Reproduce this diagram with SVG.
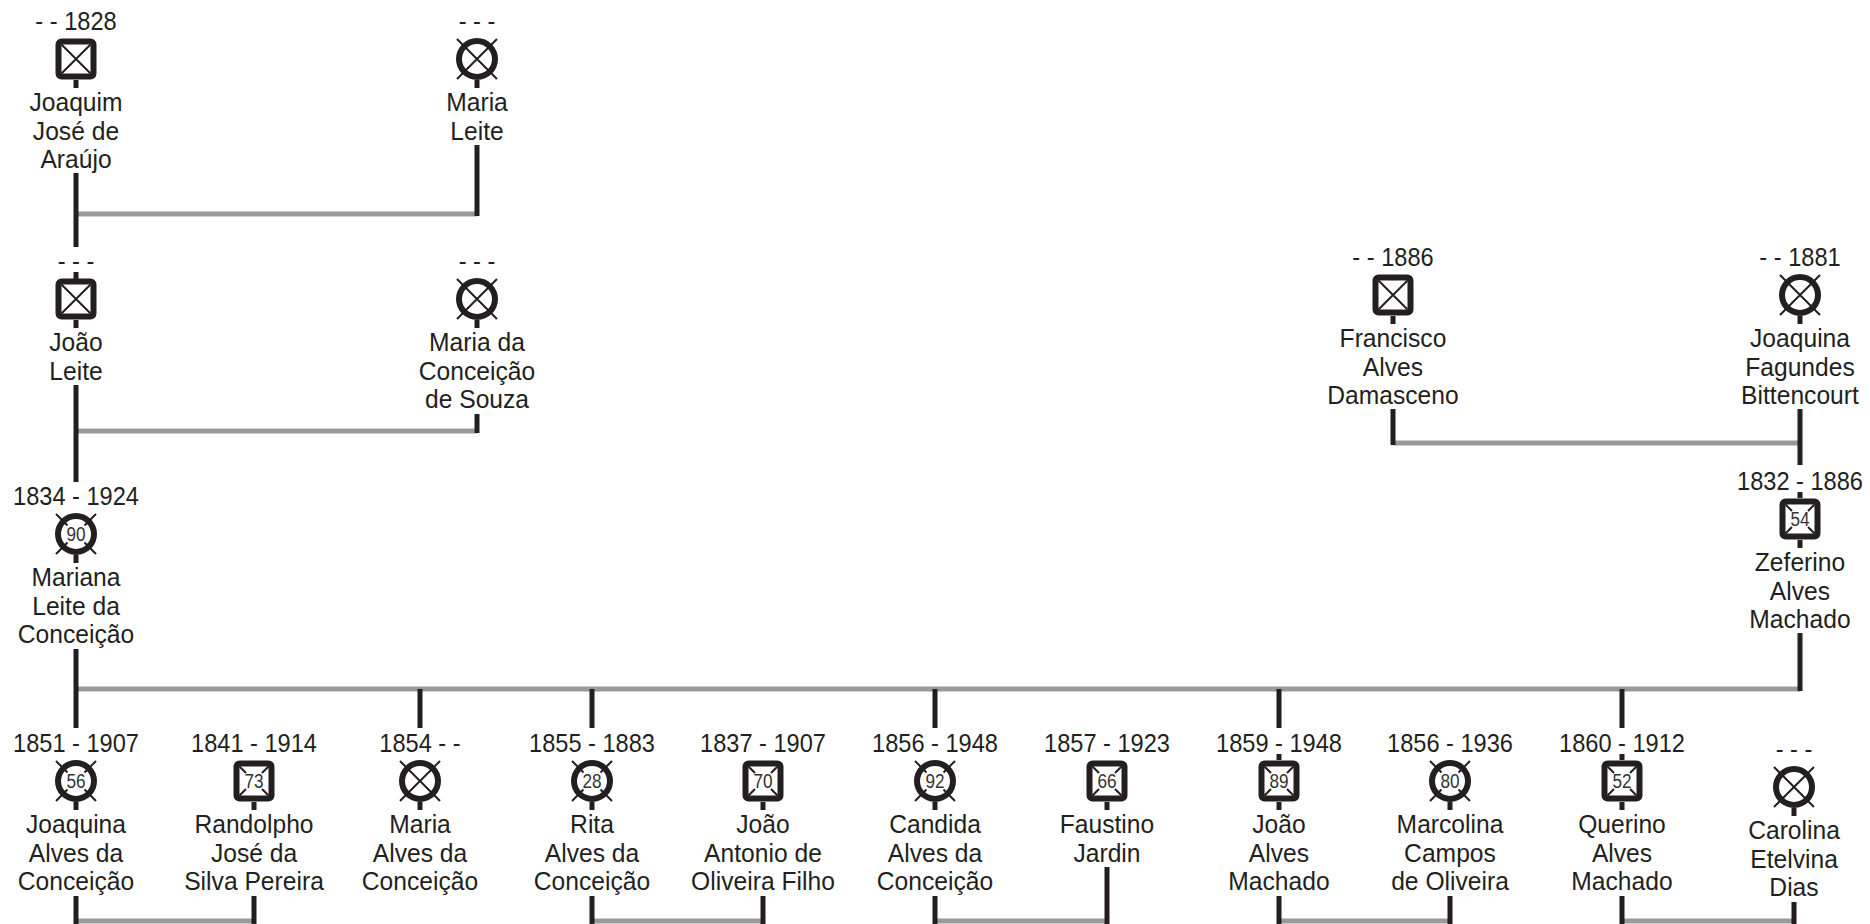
<svg xmlns="http://www.w3.org/2000/svg" xmlns:xlink="http://www.w3.org/1999/xlink" width="1870" height="924" viewBox="0 0 1870 924">
  <style>
    text { font-family: "Liberation Sans", Arial, sans-serif; fill: #231f20; text-anchor: middle; transform-box: fill-box; transform-origin: center; }
    .lbl { font-size: 26.5px; transform: scaleX(0.93); }
    .dt { font-size: 26.5px; transform: scaleX(0.89); }
    .age { font-size: 19.5px; fill: #333333; transform: scaleX(0.88); }
    .kin { stroke: #231f20; stroke-width: 5; fill: none; }
    .union { stroke: #999999; stroke-width: 5; fill: none; }
    .frame { stroke: #231f20; stroke-width: 6; fill: #ffffff; }
    .mark { stroke: #231f20; stroke-width: 2; fill: none; }
  </style>
  <defs>
    <!-- male, deceased -->
    <g id="male-x">
      <rect class="frame" x="-17.5" y="-17.5" width="35" height="35" rx="3"/>
      <path class="mark" d="M-14.5,-14.5 L14.5,14.5 M14.5,-14.5 L-14.5,14.5"/>
    </g>
    <!-- male, deceased with age -->
    <g id="male-age">
      <rect class="frame" x="-17.5" y="-17.5" width="35" height="35" rx="3"/>
      <path class="mark" d="M-14.5,-14.5 L-8,-8 M14.5,-14.5 L8,-8 M-14.5,14.5 L-8,8 M14.5,14.5 L8,8"/>
    </g>
    <!-- female, deceased -->
    <g id="female-x">
      <circle class="frame" r="18"/>
      <path class="mark" d="M-20,-20 L20,20 M20,-20 L-20,20"/>
    </g>
    <!-- female, deceased with age -->
    <g id="female-age">
      <circle class="frame" r="18"/>
      <path class="mark" d="M-20,-20 L-8.5,-8.5 M20,-20 L8.5,-8.5 M-20,20 L-8.5,8.5 M20,20 L8.5,8.5"/>
    </g>
  </defs>

  <!-- family connectors -->
  <g id="connectors">
    <path class="union" d="M76,214 H477 M76,431 H477 M1393,443 H1800 M76,689 H1800 M76,921 H254 M592,921 H763 M935,921 H1107 M1279,921 H1450 M1622,921 H1794"/>
    <path class="kin" d="M76,173 V247 M477,145 V216 M76,385 V482 M477,414 V433 M1393,409 V445 M1800,409 V465 M76,649 V728 M1800,633 V691 M420,689 V728 M592,689 V728 M935,689 V728 M1279,689 V728 M1622,689 V728 M76,896 V924 M254,896 V924 M592,896 V924 M763,896 V924 M935,896 V924 M1107,867 V924 M1279,896 V924 M1450,896 V924 M1622,896 V924 M1794,902 V924"/>
  </g>

  <!-- generation 1 -->
  <g id="joaquim-jose-de-araujo">
    <text class="dt" x="76" y="30">- - 1828</text>
    <path class="kin" d="M76,80 V88"/>
    <use xlink:href="#male-x" x="76" y="59"/>
    <text class="lbl" x="76" y="111">Joaquim</text>
    <text class="lbl" x="76" y="139.6">José de</text>
    <text class="lbl" x="76" y="168.2">Araújo</text>
  </g>
  <g id="maria-leite">
    <text class="dt" x="477" y="30">- - -</text>
    <path class="kin" d="M477,80 V88"/>
    <use xlink:href="#female-x" x="477" y="59"/>
    <text class="lbl" x="477" y="111">Maria</text>
    <text class="lbl" x="477" y="139.6">Leite</text>
  </g>

  <!-- generation 2 -->
  <g id="joao-leite">
    <text class="dt" x="76" y="270">- - -</text>
    <path class="kin" d="M76,272 V280 M76,320 V328"/>
    <use xlink:href="#male-x" x="76" y="299"/>
    <text class="lbl" x="76" y="351">João</text>
    <text class="lbl" x="76" y="379.6">Leite</text>
  </g>
  <g id="maria-da-conceicao-de-souza">
    <text class="dt" x="477" y="270">- - -</text>
    <path class="kin" d="M477,320 V328"/>
    <use xlink:href="#female-x" x="477" y="299"/>
    <text class="lbl" x="477" y="351">Maria da</text>
    <text class="lbl" x="477" y="379.6">Conceição</text>
    <text class="lbl" x="477" y="408.2">de Souza</text>
  </g>
  <g id="francisco-alves-damasceno">
    <text class="dt" x="1393" y="266">- - 1886</text>
    <path class="kin" d="M1393,316 V324"/>
    <use xlink:href="#male-x" x="1393" y="295"/>
    <text class="lbl" x="1393" y="347">Francisco</text>
    <text class="lbl" x="1393" y="375.6">Alves</text>
    <text class="lbl" x="1393" y="404.2">Damasceno</text>
  </g>
  <g id="joaquina-fagundes-bittencourt">
    <text class="dt" x="1800" y="266">- - 1881</text>
    <path class="kin" d="M1800,316 V324"/>
    <use xlink:href="#female-x" x="1800" y="295"/>
    <text class="lbl" x="1800" y="347">Joaquina</text>
    <text class="lbl" x="1800" y="375.6">Fagundes</text>
    <text class="lbl" x="1800" y="404.2">Bittencourt</text>
  </g>

  <!-- generation 3 -->
  <g id="mariana-leite-da-conceicao">
    <text class="dt" x="76" y="505">1834 - 1924</text>
    <path class="kin" d="M76,555 V563"/>
    <use xlink:href="#female-age" x="76" y="534"/>
    <text class="age" x="76" y="541">90</text>
    <text class="lbl" x="76" y="586">Mariana</text>
    <text class="lbl" x="76" y="614.6">Leite da</text>
    <text class="lbl" x="76" y="643.2">Conceição</text>
  </g>
  <g id="zeferino-alves-machado">
    <text class="dt" x="1800" y="490">1832 - 1886</text>
    <path class="kin" d="M1800,492 V498 M1800,540 V548"/>
    <use xlink:href="#male-age" x="1800" y="519"/>
    <text class="age" x="1800" y="526">54</text>
    <text class="lbl" x="1800" y="571">Zeferino</text>
    <text class="lbl" x="1800" y="599.6">Alves</text>
    <text class="lbl" x="1800" y="628.2">Machado</text>
  </g>

  <!-- generation 4 -->
  <g id="joaquina-alves-da-conceicao">
    <text class="dt" x="76" y="752">1851 - 1907</text>
    <path class="kin" d="M76,802 V810"/>
    <use xlink:href="#female-age" x="76" y="781"/>
    <text class="age" x="76" y="788">56</text>
    <text class="lbl" x="76" y="833">Joaquina</text>
    <text class="lbl" x="76" y="861.6">Alves da</text>
    <text class="lbl" x="76" y="890.2">Conceição</text>
  </g>
  <g id="randolpho-jose-da-silva-pereira">
    <text class="dt" x="254" y="752">1841 - 1914</text>
    <path class="kin" d="M254,802 V810"/>
    <use xlink:href="#male-age" x="254" y="781"/>
    <text class="age" x="254" y="788">73</text>
    <text class="lbl" x="254" y="833">Randolpho</text>
    <text class="lbl" x="254" y="861.6">José da</text>
    <text class="lbl" x="254" y="890.2">Silva Pereira</text>
  </g>
  <g id="maria-alves-da-conceicao">
    <text class="dt" x="420" y="752">1854 - -</text>
    <path class="kin" d="M420,802 V810"/>
    <use xlink:href="#female-x" x="420" y="781"/>
    <text class="lbl" x="420" y="833">Maria</text>
    <text class="lbl" x="420" y="861.6">Alves da</text>
    <text class="lbl" x="420" y="890.2">Conceição</text>
  </g>
  <g id="rita-alves-da-conceicao">
    <text class="dt" x="592" y="752">1855 - 1883</text>
    <path class="kin" d="M592,802 V810"/>
    <use xlink:href="#female-age" x="592" y="781"/>
    <text class="age" x="592" y="788">28</text>
    <text class="lbl" x="592" y="833">Rita</text>
    <text class="lbl" x="592" y="861.6">Alves da</text>
    <text class="lbl" x="592" y="890.2">Conceição</text>
  </g>
  <g id="joao-antonio-de-oliveira-filho">
    <text class="dt" x="763" y="752">1837 - 1907</text>
    <path class="kin" d="M763,802 V810"/>
    <use xlink:href="#male-age" x="763" y="781"/>
    <text class="age" x="763" y="788">70</text>
    <text class="lbl" x="763" y="833">João</text>
    <text class="lbl" x="763" y="861.6">Antonio de</text>
    <text class="lbl" x="763" y="890.2">Oliveira Filho</text>
  </g>
  <g id="candida-alves-da-conceicao">
    <text class="dt" x="935" y="752">1856 - 1948</text>
    <path class="kin" d="M935,802 V810"/>
    <use xlink:href="#female-age" x="935" y="781"/>
    <text class="age" x="935" y="788">92</text>
    <text class="lbl" x="935" y="833">Candida</text>
    <text class="lbl" x="935" y="861.6">Alves da</text>
    <text class="lbl" x="935" y="890.2">Conceição</text>
  </g>
  <g id="faustino-jardin">
    <text class="dt" x="1107" y="752">1857 - 1923</text>
    <path class="kin" d="M1107,802 V810"/>
    <use xlink:href="#male-age" x="1107" y="781"/>
    <text class="age" x="1107" y="788">66</text>
    <text class="lbl" x="1107" y="833">Faustino</text>
    <text class="lbl" x="1107" y="861.6">Jardin</text>
  </g>
  <g id="joao-alves-machado">
    <text class="dt" x="1279" y="752">1859 - 1948</text>
    <path class="kin" d="M1279,754 V760 M1279,802 V810"/>
    <use xlink:href="#male-age" x="1279" y="781"/>
    <text class="age" x="1279" y="788">89</text>
    <text class="lbl" x="1279" y="833">João</text>
    <text class="lbl" x="1279" y="861.6">Alves</text>
    <text class="lbl" x="1279" y="890.2">Machado</text>
  </g>
  <g id="marcolina-campos-de-oliveira">
    <text class="dt" x="1450" y="752">1856 - 1936</text>
    <path class="kin" d="M1450,802 V810"/>
    <use xlink:href="#female-age" x="1450" y="781"/>
    <text class="age" x="1450" y="788">80</text>
    <text class="lbl" x="1450" y="833">Marcolina</text>
    <text class="lbl" x="1450" y="861.6">Campos</text>
    <text class="lbl" x="1450" y="890.2">de Oliveira</text>
  </g>
  <g id="querino-alves-machado">
    <text class="dt" x="1622" y="752">1860 - 1912</text>
    <path class="kin" d="M1622,754 V760 M1622,802 V810"/>
    <use xlink:href="#male-age" x="1622" y="781"/>
    <text class="age" x="1622" y="788">52</text>
    <text class="lbl" x="1622" y="833">Querino</text>
    <text class="lbl" x="1622" y="861.6">Alves</text>
    <text class="lbl" x="1622" y="890.2">Machado</text>
  </g>
  <g id="carolina-etelvina-dias">
    <text class="dt" x="1794" y="758">- - -</text>
    <path class="kin" d="M1794,808 V816"/>
    <use xlink:href="#female-x" x="1794" y="787"/>
    <text class="lbl" x="1794" y="839">Carolina</text>
    <text class="lbl" x="1794" y="867.6">Etelvina</text>
    <text class="lbl" x="1794" y="896.2">Dias</text>
  </g>
</svg>
